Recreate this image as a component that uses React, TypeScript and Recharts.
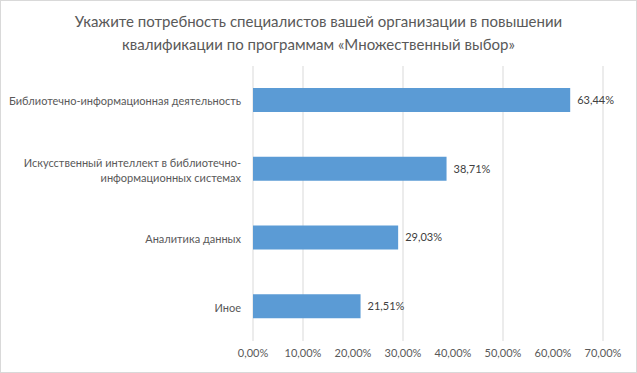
import React from 'react'
import { BarChart, Bar, XAxis, YAxis, CartesianGrid, LabelList } from 'recharts'

const TITLE = [
  'Укажите потребность специалистов вашей организации в повышении',
  'квалификации по программам «Множественный выбор»',
]

const categories = [
  'Библиотечно-информационная деятельность',
  'Искусственный интеллект в библиотечно-информационных системах',
  'Аналитика данных',
  'Иное',
]
const values = [63.44, 38.71, 29.03, 21.51]
const xTicks = [0, 10, 20, 30, 40, 50, 60, 70]

const FONT = 'Lato, "Open Sans", sans-serif'
const TEXT = '#595959'
const GRID = '#d9d9d9'
const BAR = '#5b9bd5'

const data = categories.map((name, i) => ({ name, value: values[i] }))

const pct = (v: number) => `${v.toFixed(2).replace('.', ',')}%`

// перенос длинных подписей после пробела или дефиса
function wrap(text: string, max = 40): string[] {
  if (text.length <= max) return [text]
  let cut = -1
  for (let i = 0; i < max; i++) {
    if (text[i] === ' ' || text[i] === '-') cut = i
  }
  if (cut < 0) return [text]
  const head = text.slice(0, cut + 1).trim()
  return [head, ...wrap(text.slice(cut + 1).trim(), max)]
}

function CategoryTick(props: any) {
  const { x, y, payload } = props
  const lines = wrap(String(payload.value))
  const lh = 15
  const start = y - ((lines.length - 1) * lh) / 2
  return (
    <text x={x} y={start} textAnchor="end" fill={TEXT} fontSize={11} fontFamily={FONT} dominantBaseline="central">
      {lines.map((l, i) => (
        <tspan key={i} x={x} y={start + i * lh}>{l}</tspan>
      ))}
    </text>
  )
}

export default function App() {
  return (
    <div style={{ position: 'fixed', left: 0, top: 0, width: 637, height: 373, background: '#fff' }}>
      <div
        style={{
          position: 'absolute', left: 0, top: 10, width: 637, textAlign: 'center',
          fontFamily: FONT, fontSize: 15, lineHeight: '23px', color: TEXT,
        }}
      >
        {TITLE.map((t, i) => <div key={i}>{t}</div>)}
      </div>
      <BarChart
        width={637}
        height={373}
        data={data}
        layout="vertical"
        margin={{ top: 66, right: 34, bottom: 2, left: 0 }}
      >
        <CartesianGrid horizontal={false} stroke={GRID} strokeWidth={1} />
        <XAxis
          type="number"
          domain={[0, 70]}
          ticks={xTicks}
          tickFormatter={pct}
          axisLine={false}
          tickLine={false}
          height={30}
          tick={{ fill: TEXT, fontSize: 11, fontFamily: FONT }}
        />
        <YAxis
          type="category"
          dataKey="name"
          width={253}
          axisLine={false}
          tickLine={false}
          tickMargin={6}
          tick={<CategoryTick />}
        />
        <Bar dataKey="value" fill={BAR} barSize={24} isAnimationActive={false}>
          <LabelList
            dataKey="value"
            position="right"
            offset={7}
            formatter={(v: any) => pct(Number(v))}
            style={{ fill: '#404040', fontSize: 11, fontFamily: FONT }}
          />
        </Bar>
      </BarChart>
      <div
        style={{
          position: 'absolute', left: 0, top: 0, width: 637, height: 373,
          boxSizing: 'border-box', border: `1px solid ${GRID}`, pointerEvents: 'none',
        }}
      />
    </div>
  )
}
